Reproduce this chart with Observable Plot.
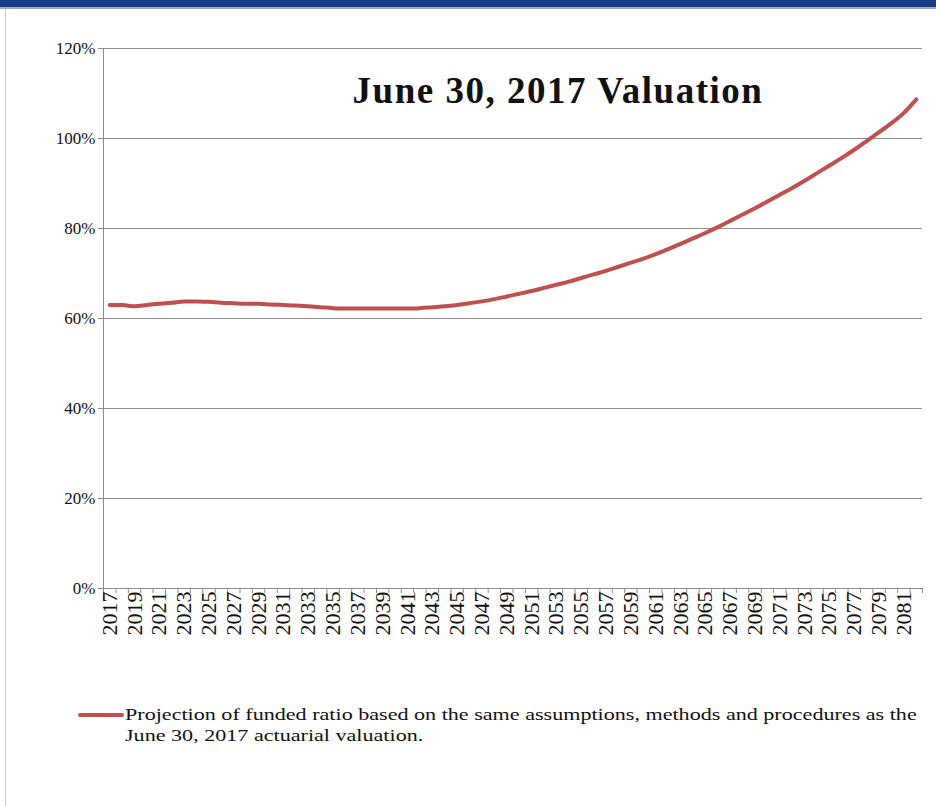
<!DOCTYPE html>
<html><head><meta charset="utf-8">
<script src="https://cdn.jsdelivr.net/npm/d3@7"></script>
<script src="https://cdn.jsdelivr.net/npm/@observablehq/plot@0.6"></script>
<style>
body{margin:0;background:#fff;font-family:"Liberation Serif","DejaVu Serif",serif;}
#wrap{position:relative;width:936px;height:806px;overflow:hidden;}
#bar{position:absolute;left:0;top:0;width:936px;height:7px;background:#1b3c80;border-bottom:2px solid #9aa9c8;}
#side{position:absolute;left:5px;top:9px;width:1px;height:797px;background:#c8c8c8;}
#chart{position:absolute;left:0;top:0;}
#legend{position:absolute;left:78px;top:704px;width:850px;font-size:17px;line-height:21px;color:#111;}
#legend .sw{position:absolute;left:0;top:9px;width:46px;height:4px;background:#c0504d;border-radius:2px;}
#legend .tx{margin-left:47px;transform:scaleX(1.3);transform-origin:left top;white-space:nowrap;}
#chart svg g[aria-label="text"] text{letter-spacing:1.5px;}
</style></head><body>
<div id="wrap"><div id="chart"></div><div id="bar"></div><div id="side"></div>
<div id="legend"><div class="sw"></div><div class="tx">Projection of funded ratio based on the same assumptions, methods and procedures as the<br>June 30, 2017 actuarial valuation.</div></div></div>
<script>
const years = d3.range(2017, 2083);
const funded = [63.0,63.0,62.7,63.0,63.3,63.5,63.8,63.8,63.7,63.5,63.4,63.3,63.3,63.1,63.0,62.9,62.7,62.5,62.3,62.2,62.2,62.2,62.2,62.2,62.2,62.3,62.5,62.7,63.0,63.4,63.8,64.3,64.9,65.5,66.1,66.8,67.5,68.2,69.0,69.8,70.6,71.5,72.4,73.3,74.3,75.4,76.6,77.8,79.0,80.3,81.7,83.1,84.5,86.0,87.5,89.0,90.6,92.3,94.0,95.7,97.5,99.4,101.4,103.4,105.7,108.7];
const yTicks = [0,20,40,60,80,100,120];
const rows = years.map((y,i)=>({year:y,value:funded[i]}));
const boundaries = [years[0]-0.5, ...years.map(y=>y+0.5)];

const chart = Plot.plot({
  width:936, height:650,
  marginLeft:103, marginRight:14, marginTop:48, marginBottom:62,
  style:{fontFamily:"Liberation Serif, serif", fontSize:"17px", color:"#111", background:"transparent"},
  x:{domain:[years[0]-0.5, years[years.length-1]+0.5]},
  y:{domain:[0,120]},
  marks:[
    Plot.ruleY(yTicks.filter(t=>t>0), {stroke:"#8c8c8c", strokeWidth:1}),
    Plot.ruleX([years[0]-0.5], {stroke:"#8c8c8c"}),
    Plot.ruleY([0], {stroke:"#8c8c8c"}),
    Plot.axisY({ticks:yTicks, tickFormat:d=>d+"%", tickSize:5, tickPadding:3, stroke:"#8c8c8c", fontSize:17, label:null}),
    Plot.axisX({ticks:boundaries, tickSize:5, tickFormat:()=>"", stroke:"#8c8c8c", label:null}),
    Plot.axisX({ticks:years.filter(y=>y%2===1), tickSize:0, tickPadding:3, tickRotate:-90, tickFormat:d=>String(d), fontSize:22, label:null}),
    Plot.line(rows, {x:"year", y:"value", stroke:"#c0504d", strokeWidth:4, curve:"monotone-x"}),
    Plot.text(["June 30, 2017 Valuation"], {frameAnchor:"top", dx:45, dy:28, fontSize:37, fontWeight:"bold", fill:"#111", fontFamily:"Liberation Serif, serif"})
  ]
});
document.getElementById("chart").appendChild(chart);
</script></body></html>
